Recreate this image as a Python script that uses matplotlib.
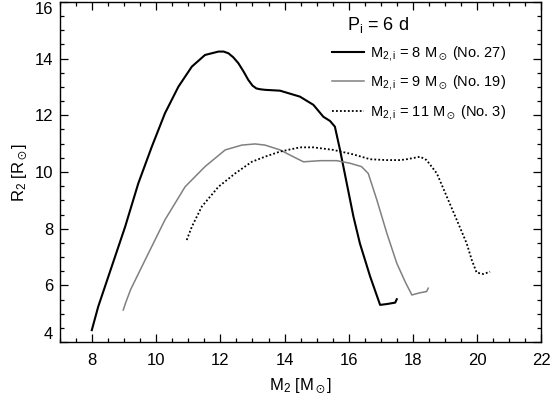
import matplotlib
matplotlib.use("Agg")
import matplotlib.pyplot as plt
from matplotlib.ticker import MultipleLocator
from matplotlib.transforms import offset_copy

plt.rcParams['font.family'] = ['Liberation Sans', 'DejaVu Sans']
plt.rcParams['mathtext.fontset'] = 'custom'
plt.rcParams['mathtext.rm'] = 'Liberation Sans'
plt.rcParams['mathtext.it'] = 'Liberation Sans'
plt.rcParams['mathtext.default'] = 'regular'

# M2,i = 8 Msun (No. 27)
m_27 = [7.99, 8.19, 8.61, 9.03, 9.44, 9.86, 10.27, 10.69, 11.11, 11.52, 11.94,
        12.1, 12.25, 12.4, 12.56, 12.72, 12.87, 13.0, 13.12, 13.24, 13.39, 13.86,
        14.48, 14.90, 15.21, 15.42, 15.57, 15.73, 15.94, 16.15, 16.35, 16.67,
        16.98, 17.19, 17.45, 17.5]
r_27 = [4.42, 5.25, 6.66, 8.07, 9.60, 10.89, 12.07, 13.01, 13.72, 14.13, 14.25,
        14.25, 14.19, 14.05, 13.84, 13.55, 13.25, 13.05, 12.95, 12.92, 12.90, 12.87,
        12.66, 12.37, 11.95, 11.80, 11.6, 10.78, 9.6, 8.42, 7.48, 6.31,
        5.31, 5.34, 5.39, 5.51]

# M2,i = 9 Msun (No. 19)
m_19 = [8.97, 9.05, 9.2, 9.65, 10.27, 10.9, 11.52, 12.15, 12.67, 13.08, 13.39,
        13.86, 14.27, 14.59, 15.11, 15.63, 16.04, 16.4, 16.61, 16.88, 17.19,
        17.5, 17.76, 17.97, 18.23, 18.43, 18.48]
r_19 = [5.13, 5.4, 5.85, 6.89, 8.31, 9.48, 10.19, 10.78, 10.95, 10.99, 10.95,
        10.78, 10.54, 10.36, 10.40, 10.40, 10.31, 10.19, 9.95, 9.01, 7.84,
        6.78, 6.13, 5.66, 5.74, 5.78, 5.9]

# M2,i = 11 Msun (No. 3)
m_3 = [10.95, 11.11, 11.42, 11.94, 12.46, 12.98, 13.39, 13.86, 14.48, 14.90,
       15.52, 16.15, 16.67, 17.19, 17.6, 17.81, 18.23, 18.43, 18.75, 19.06,
       19.37, 19.68, 19.84, 19.99, 20.2, 20.41]
r_3 = [7.6, 8.07, 8.78, 9.48, 9.95, 10.36, 10.54, 10.72, 10.87, 10.87,
       10.78, 10.62, 10.45, 10.42, 10.42, 10.45, 10.54, 10.42, 9.95, 9.13,
       8.31, 7.48, 6.89, 6.45, 6.4, 6.48]

yticks = [4, 6, 8, 10, 12, 14, 16]

labels = [r'M$_{2,i}$ = 8 M$_\odot$ (No. 27)',
          r'M$_{2,i}$ = 9 M$_\odot$ (No. 19)',
          r'M$_{2,i}$ = 11 M$_\odot$ (No. 3)']

fig = plt.figure(figsize=(5.51, 3.97), dpi=100)
ax = fig.add_axes([0.109, 0.1385, 0.873, 0.8565])

ax.plot(m_27, r_27, color='black', lw=1.5, label=labels[0])
ax.plot(m_19, r_19, color='#808080', lw=1.1, label=labels[1])
ax.plot(m_3, r_3, color='black', lw=1.3, ls=(0, (1, 1.2)), label=labels[2])

ax.set_xlim(7, 22)
ax.set_ylim(4, 16)
ax.xaxis.set_major_locator(MultipleLocator(2))
ax.xaxis.set_minor_locator(MultipleLocator(0.5))
# end labels are drawn by hand below so they stay inside the figure
ax.set_yticks(yticks, [''] + [str(v) for v in yticks[1:-1]] + [''])
ax.yaxis.set_minor_locator(MultipleLocator(0.5))
ax.tick_params(which='both', direction='in', top=True, right=True, labelsize=12)
ax.tick_params(which='major', length=5.5, width=0.9)
ax.tick_params(which='minor', length=3, width=0.9)
ax.tick_params(axis='x', pad=8)
ax.tick_params(axis='y', pad=5)
for s in ax.spines.values():
    s.set_linewidth(1.0)

ytrans = offset_copy(ax.get_yaxis_transform(), fig=fig, x=-5, y=0, units='points')
ax.text(0, yticks[0], str(yticks[0]), transform=ytrans, ha='right', va='bottom', fontsize=12)
ax.text(0, yticks[-1], str(yticks[-1]), transform=ytrans, ha='right', va='top', fontsize=12)

ax.set_xlabel(r'M$_2$ [M$_\odot$]', fontsize=12, labelpad=6)
ax.set_ylabel(r'R$_2$ [R$_\odot$]', fontsize=12, labelpad=3)

ax.text(0.597, 0.932, r'P$_i$ = 6 d', transform=ax.transAxes, fontsize=13,
        va='center', ha='left')
ax.legend(loc='upper left', bbox_to_anchor=(0.565, 0.877), frameon=False,
          fontsize=10.5, handlelength=2.2, handletextpad=0.45,
          labelspacing=0.72, borderpad=0, borderaxespad=0)

fig.savefig('out.png', dpi=100)
